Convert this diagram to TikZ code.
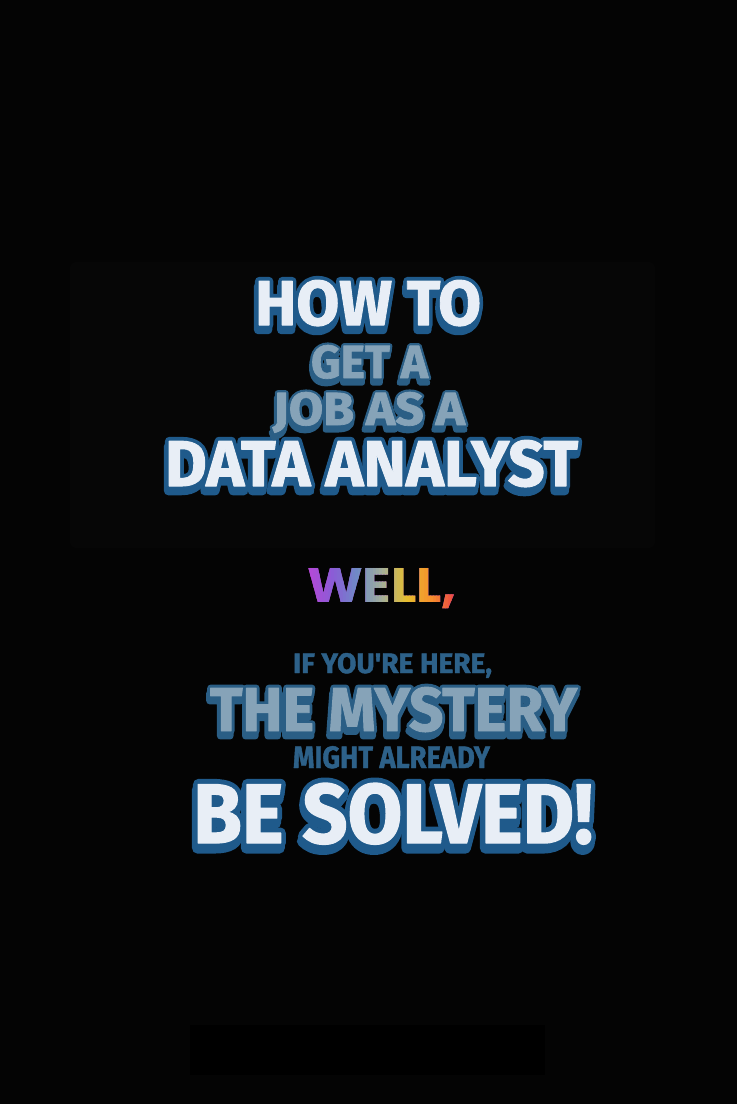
\documentclass[tikz,border=0pt]{standalone}
\usepackage{fontspec}
\setmainfont{Fira Sans}
\newfontfamily\heavy{Fira Sans}[BoldFeatures={FakeBold=1.5}]
\newfontfamily\heavyol{Fira Sans}[BoldFeatures={FakeBold=13}]
\newfontfamily\heavyolg{Fira Sans}[BoldFeatures={FakeBold=11}]
\newfontfamily\roundf{Poppins}
\usetikzlibrary{calc}
\definecolor{bg}{HTML}{040404}
\definecolor{boxbg}{HTML}{060606}
\definecolor{wfill}{HTML}{E8EEF6}
\definecolor{wline}{HTML}{1F5A8B}
\definecolor{gfill}{HTML}{86A3B8}
\definecolor{gline}{HTML}{2A5E85}
\definecolor{sblue}{HTML}{2D6189}
\definecolor{wc0}{HTML}{B648D8}
\definecolor{wc1}{HTML}{8A5CD6}
\definecolor{wc2}{HTML}{6F8BC6}
\definecolor{wc3}{HTML}{A3AE9A}
\definecolor{wc4}{HTML}{E6BE2E}
\definecolor{wc5}{HTML}{F7902C}
\definecolor{wc6}{HTML}{EB4545}
\tikzset{
  gl/.style={inner sep=0pt, outer sep=0pt, anchor=north west, font=\heavy\bfseries},
  glo/.style={inner sep=0pt, outer sep=0pt, anchor=north west, font=\heavyol\bfseries},
  glg/.style={inner sep=0pt, outer sep=0pt, anchor=north west, font=\heavyolg\bfseries},
  wl/.style={inner sep=0pt, outer sep=0pt, anchor=north west, font=\roundf\bfseries},
}
% #1 name, #2 x, #3 y, #4 w, #5 h, #6 fill, #7 outline, #8 text, #9 outline style
\newcommand\fancyline[9]{%
  \node[#9,text=#7] at ($(#2,#3)+(-1,5)$) {\resizebox{#4pt}{#5pt}{#8}};
  \node[#9,text=#7] at (#2,#3) {\resizebox{#4pt}{#5pt}{#8}};
  \node[gl,text=#6] (#1) at (#2,#3) {\resizebox{#4pt}{#5pt}{#8}};
}
\begin{document}
\begin{tikzpicture}[x=1pt,y=-1pt]
\fill[bg] (0,0) rectangle (737,1104);
\useasboundingbox (0,0) rectangle (737,1104);
\fill[boxbg, rounded corners=6pt] (70,262) rectangle (655,548);
\fill[black] (190,1025) rectangle (545,1075);

\begin{scope}[line join=round, line cap=round, miter limit=1]
% title
\fancyline{howto}{255}{280}{226}{45}{wfill}{wline}{HOW TO}{glo}
\fancyline{data}{165}{440}{413}{46}{wfill}{wline}{DATA ANALYST}{glo}
\fancyline{solved}{193}{783}{400}{60}{wfill}{wline}{BE SOLVED!}{glo}
\fancyline{geta}{311}{345}{117}{33}{gfill}{gline}{GET A}{glg}
\fancyline{jobas}{273}{392}{192}{33}{gfill}{gline}{JOB AS A}{glg}
\fancyline{mystery}{210}{687}{367}{44}{gfill}{gline}{THE MYSTERY}{glg}

% solid small lines
\node[gl,text=sblue] (ifhere) at (293,653) {\resizebox{199pt}{20pt}{IF YOU'RE HERE,}};
\node[gl,text=sblue] (might) at (293,746) {\resizebox{197pt}{22pt}{MIGHT ALREADY}};
\end{scope}

% rainbow WELL,
\node[wl,text=wc0] (well) at (307,568) {\resizebox{150pt}{34pt}{WELL,}};
\foreach \i in {0,...,49}{%
  \pgfmathsetmacro\tpos{\i/49*6}%
  \pgfmathtruncatemacro\kl{min(floor(\tpos),5)}%
  \pgfmathtruncatemacro\kh{\kl+1}%
  \pgfmathtruncatemacro\pc{round((\tpos-\kl)*100)}%
  \colorlet{stripc}{wc\kh!\pc!wc\kl}%
  \begin{scope}
    \clip (307+\i*3,555) rectangle ++(3.6,60);
    \node[wl,text=stripc] at (307,568) {\resizebox{150pt}{34pt}{WELL,}};
  \end{scope}
}
\end{tikzpicture}
\end{document}
